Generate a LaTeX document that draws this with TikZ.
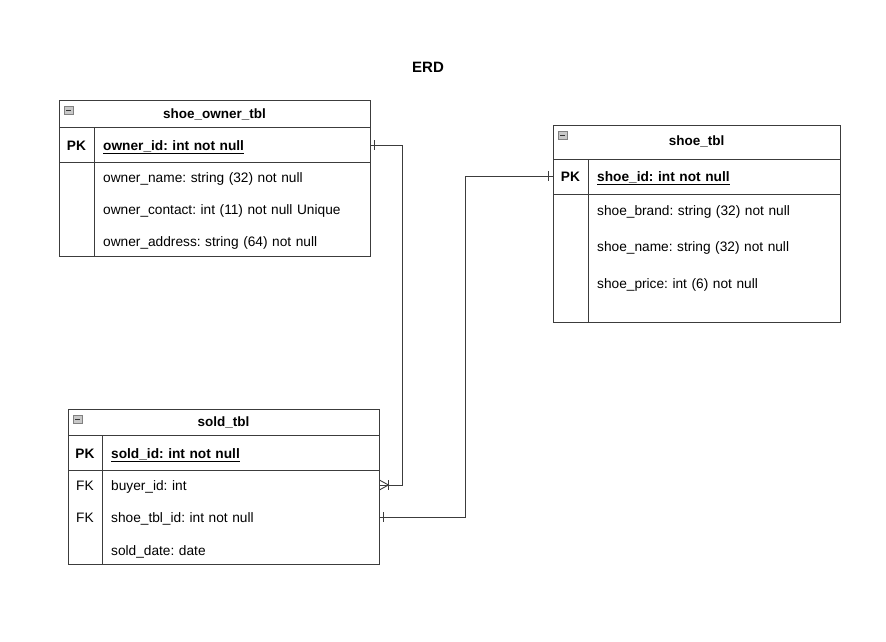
\documentclass[tikz,border=0pt]{standalone}
\usepackage{fontspec}
\setmainfont{Liberation Sans}
\usetikzlibrary{positioning,calc}
\definecolor{erdline}{RGB}{60,60,60}
\definecolor{erdicon}{RGB}{200,200,200}
\frenchspacing

\begin{document}
\begin{tikzpicture}[x=1pt,y=-1pt,
    tbl/.style={draw=erdline, line width=0.9pt, anchor=north west, inner sep=0pt},
    ttl/.style={font=\fontsize{13.5}{15}\selectfont\bfseries},
    key/.style={inner sep=0pt, text height=11pt, text depth=0pt, font=\fontsize{13.7}{15}\selectfont#1},
    key/.default=\bfseries,
    row/.style={anchor=west, inner xsep=9pt, inner ysep=0pt, text width=#1, align=left,
        text height=11pt, text depth=0pt, font=\fontsize{13.7}{15}\selectfont},
    sep/.style={draw=erdline, line width=0.9pt},
    link/.style={draw=erdline, line width=0.9pt}]
    \useasboundingbox (0,0) rectangle (886,642);
    % Title
    \node[font=\fontsize{15}{17}\selectfont\bfseries] (erd) at (428,67) {ERD};
    % Table frames
    \node[tbl, minimum width=311, minimum height=156] (owner) at (59,100) {};
    \node[tbl, minimum width=311, minimum height=155] (sold) at (68,409) {};
    \node[tbl, minimum width=287, minimum height=197] (shoe) at (553,125) {};
    % Collapse icons
    \foreach \tx/\ty in {59/100, 68/409, 553/125} {
        \draw[gray, fill=erdicon] (\tx+5,\ty+6) rectangle ++(9,8);
        \draw[gray!40!black] (\tx+7,\ty+10) -- ++(5,0);
    }
    % shoe_owner_tbl
    \node[ttl] (ownerttl) at (214.5,114) {shoe\_owner\_tbl};
    \draw[sep] (59,127) -- (370,127);
    \draw[sep] (59,162) -- (370,162);
    \draw[sep] (94,127) -- (94,256);
    \node[key] (ownerpk) at (76.5,145) {PK};
    \node[row=258pt, font=\fontsize{13.7}{15}\selectfont\bfseries] (ownerid) at (94,145) {\underline{owner\_id: int not null}};
    \node[row=258pt] (ownername) at (94,177) {owner\_name: string (32) not null};
    \node[row=258pt] (ownercontact) at (94,209) {owner\_contact: int (11) not null Unique};
    \node[row=258pt] (owneraddress) at (94,241) {owner\_address: string (64) not null};
    % sold_tbl
    \node[ttl] (soldttl) at (223.5,422) {sold\_tbl};
    \draw[sep] (68,435) -- (379,435);
    \draw[sep] (68,470) -- (379,470);
    \draw[sep] (102,435) -- (102,564);
    \node[key] (soldpk) at (85,453) {PK};
    \node[key=\mdseries] (buyerfk) at (85,485) {FK};
    \node[key=\mdseries] (shoefk) at (85,517) {FK};
    \node[row=259pt, font=\fontsize{13.7}{15}\selectfont\bfseries] (soldid) at (102,453) {\underline{sold\_id: int not null}};
    \node[row=259pt] (buyer) at (102,485) {buyer\_id: int};
    \node[row=259pt] (shoetblid) at (102,517) {shoe\_tbl\_id: int not null};
    \node[row=259pt] (solddate) at (102,550) {sold\_date: date};
    % shoe_tbl
    \node[ttl] (shoettl) at (696.5,141) {shoe\_tbl};
    \draw[sep] (553,159) -- (840,159);
    \draw[sep] (553,194) -- (840,194);
    \draw[sep] (588,159) -- (588,322);
    \node[key, minimum width=35] (shoepk) at (570.5,176) {PK};
    \node[row=234pt, font=\fontsize{13.7}{15}\selectfont\bfseries] (shoeid) at (588,176) {\underline{shoe\_id: int not null}};
    \node[row=234pt] (shoebrand) at (588,210) {shoe\_brand: string (32) not null};
    \node[row=234pt] (shoename) at (588,246) {shoe\_name: string (32) not null};
    \node[row=234pt] (shoeprice) at (588,283) {shoe\_price: int (6) not null};
    % Relations
    \draw[link] (ownerid.east) -| ([xshift=23]buyer.east) -- (buyer.east);
    \draw[link] ([xshift=4]ownerid.east) ++(0,-5) -- ++(0,10);
    \draw[link] ([yshift=5]buyer.east) -- ([xshift=9]buyer.east) -- ([yshift=-5]buyer.east);
    \draw[link] ([xshift=9]buyer.east) ++(0,-5) -- ++(0,10);
    \draw[link] (shoetblid.east) -| ([xshift=-87]shoepk.west) -- (shoepk.west);
    \draw[link] ([xshift=4]shoetblid.east) ++(0,-5) -- ++(0,10);
    \draw[link] ([xshift=-4]shoepk.west) ++(0,-5) -- ++(0,10);
\end{tikzpicture}
\end{document}
